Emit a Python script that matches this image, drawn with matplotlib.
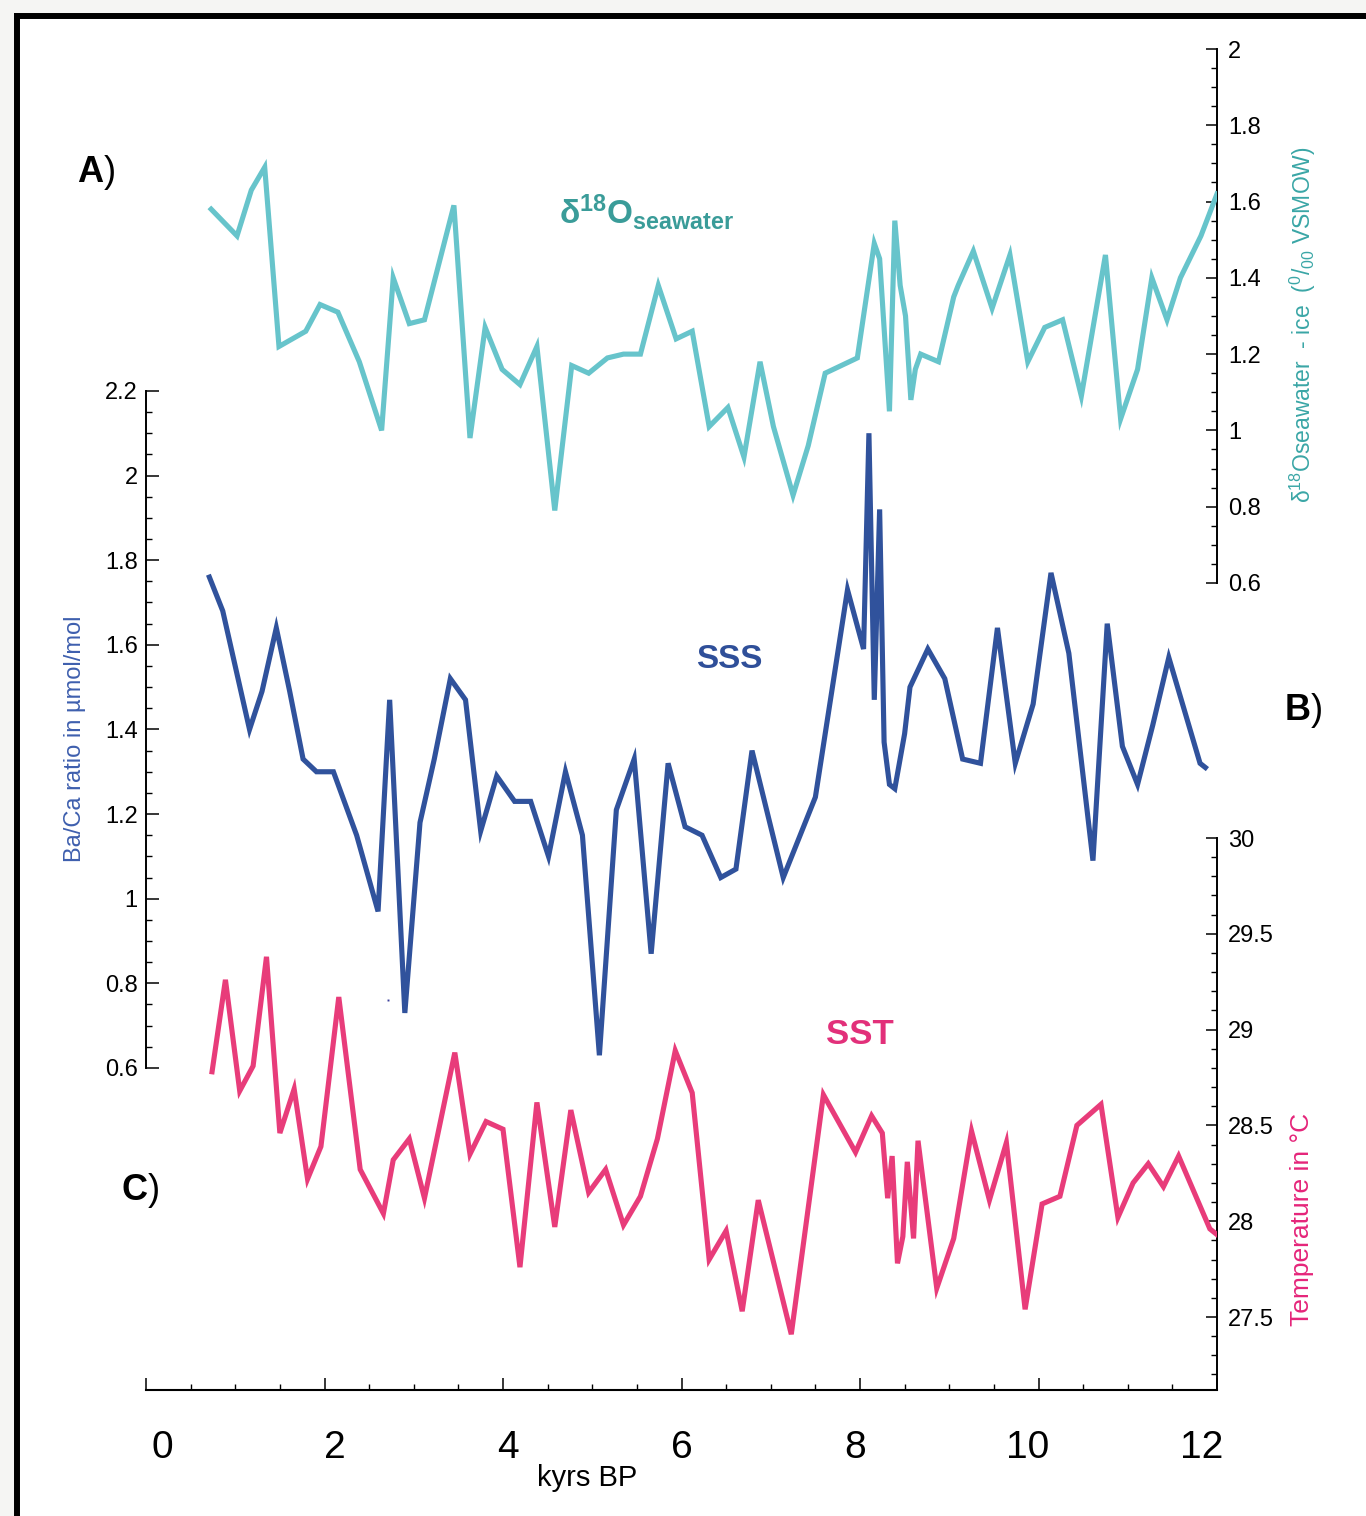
import numpy as np
import matplotlib
matplotlib.use("Agg")
import matplotlib.pyplot as plt
from matplotlib.ticker import FixedLocator, FuncFormatter
from matplotlib.patches import Rectangle
from matplotlib.lines import Line2D
from matplotlib import font_manager

# ---------------- data ----------------
d18_age = [0.73, 1.02, 1.18, 1.33, 1.49, 1.79, 1.95, 2.15, 2.39, 2.64, 2.77, 2.95, 3.12, 3.45, 3.63,
           3.80, 3.99, 4.19, 4.38, 4.58, 4.77, 4.96, 5.17, 5.35, 5.54, 5.74, 5.94, 6.12, 6.31, 6.52,
           6.70, 6.88, 7.03, 7.25, 7.42, 7.61, 7.97, 8.16, 8.22, 8.33, 8.39, 8.45, 8.51, 8.57, 8.62,
           8.68, 8.88, 9.05, 9.10, 9.27, 9.48, 9.68, 9.88, 10.07, 10.27, 10.48, 10.75, 10.92, 11.11,
           11.27, 11.44, 11.59, 11.82, 12.0]
d18_val = [1.58, 1.51, 1.63, 1.69, 1.22, 1.26, 1.33, 1.31, 1.18, 1.00, 1.40, 1.28, 1.29, 1.59, 0.98,
           1.27, 1.16, 1.12, 1.22, 0.79, 1.17, 1.15, 1.19, 1.20, 1.20, 1.38, 1.24, 1.26, 1.01, 1.06,
           0.93, 1.18, 1.01, 0.83, 0.96, 1.15, 1.19, 1.49, 1.45, 1.05, 1.55, 1.38, 1.30, 1.08, 1.16,
           1.20, 1.18, 1.35, 1.38, 1.47, 1.32, 1.46, 1.18, 1.27, 1.29, 1.09, 1.46, 1.03, 1.16,
           1.40, 1.29, 1.40, 1.51, 1.62]

sss_age = [0.71, 0.86, 1.16, 1.30, 1.46, 1.61, 1.76, 1.91, 2.10, 2.36, 2.60, 2.73, 2.90, 3.07, 3.23,
           3.41, 3.58, 3.75, 3.93, 4.13, 4.31, 4.51, 4.70, 4.89, 5.08, 5.27, 5.47, 5.66, 5.85, 6.04,
           6.23, 6.44, 6.61, 6.79, 7.14, 7.50, 7.86, 8.04, 8.10, 8.16, 8.22, 8.27, 8.33, 8.39, 8.50,
           8.56, 8.76, 8.95, 9.15, 9.35, 9.54, 9.74, 9.94, 10.14, 10.34, 10.61, 10.77, 10.94, 11.11,
           11.28, 11.46, 11.81, 11.87]
sss_val = [1.76, 1.68, 1.40, 1.49, 1.64, 1.49, 1.33, 1.30, 1.30, 1.15, 0.97, 1.47, 0.73, 1.18, 1.33,
           1.52, 1.47, 1.16, 1.29, 1.23, 1.23, 1.10, 1.30, 1.15, 0.63, 1.21, 1.33, 0.87, 1.32, 1.17,
           1.15, 1.05, 1.07, 1.35, 1.05, 1.24, 1.73, 1.59, 2.10, 1.47, 1.92, 1.37, 1.27, 1.26, 1.39,
           1.50, 1.59, 1.52, 1.33, 1.32, 1.64, 1.32, 1.46, 1.77, 1.58, 1.09, 1.65, 1.36, 1.27,
           1.41, 1.57, 1.32, 1.31]
stray_age = [2.71]
stray_val = [0.76]

sst_age = [0.74, 0.89, 1.05, 1.20, 1.35, 1.50, 1.66, 1.81, 1.96, 2.16, 2.40, 2.66, 2.77, 2.95, 3.12,
           3.46, 3.63, 3.81, 4.00, 4.19, 4.38, 4.58, 4.76, 4.96, 5.15, 5.35, 5.54, 5.73, 5.93, 6.12,
           6.31, 6.50, 6.68, 6.86, 7.23, 7.59, 7.95, 8.13, 8.25, 8.31, 8.36, 8.42, 8.48, 8.53, 8.60,
           8.65, 8.86, 9.05, 9.25, 9.45, 9.64, 9.85, 10.04, 10.24, 10.43, 10.70, 10.89, 11.06, 11.23,
           11.40, 11.57, 11.92, 12.0]
sst_val = [28.78, 29.26, 28.68, 28.81, 29.38, 28.46, 28.69, 28.22, 28.39, 29.17, 28.27, 28.04, 28.32, 28.43, 28.12,
           28.88, 28.35, 28.52, 28.48, 27.76, 28.62, 27.97, 28.58, 28.15, 28.27, 27.98, 28.13, 28.43, 28.89, 28.67,
           27.80, 27.95, 27.53, 28.11, 27.41, 28.66, 28.36, 28.55, 28.46, 28.12, 28.34, 27.78, 27.92, 28.31, 27.91,
           28.42, 27.65, 27.91, 28.47, 28.11, 28.41, 27.54, 28.09, 28.13, 28.50, 28.61, 28.02, 28.20, 28.30,
           28.18, 28.34, 27.96, 27.93]

x_ticks = [0, 2, 4, 6, 8, 10, 12]
baca_ticks = [0.6, 0.8, 1.0, 1.2, 1.4, 1.6, 1.8, 2.0, 2.2]
d18_ticks = [0.6, 0.8, 1.0, 1.2, 1.4, 1.6, 1.8, 2.0]
sst_ticks = [27.5, 28.0, 28.5, 29.0, 29.5, 30.0]

# ---------------- style ----------------
names = {f.name for f in font_manager.fontManager.ttflist}
NARROW = 'Liberation Sans Narrow' if 'Liberation Sans Narrow' in names else 'Liberation Sans'

plt.rcParams['font.family'] = ['Liberation Sans', 'DejaVu Sans']
plt.rcParams['mathtext.fontset'] = 'custom'
plt.rcParams['mathtext.rm'] = 'Liberation Sans'
plt.rcParams['mathtext.it'] = 'Liberation Sans:italic'
plt.rcParams['mathtext.bf'] = 'Liberation Sans:bold'

C_D18 = '#67c4cb'
C_SSS = '#30529c'
C_SST = '#e83c7a'

W, H = 1366, 1516
fig = plt.figure(figsize=(W / 100, H / 100), dpi=100)
fig.patch.set_facecolor('#f5f5f3')


def fx(px):
    return px / W


def fy(py):
    return 1 - py / H


# white panel with black top / left border
fig.add_artist(Rectangle((fx(17), 0), 1 - fx(17), fy(16), transform=fig.transFigure,
                         facecolor='white', edgecolor='none', zorder=0))
fig.add_artist(Line2D([fx(14), 1], [fy(16), fy(16)], transform=fig.transFigure,
                      color='black', lw=4.3, solid_capstyle='butt', zorder=1))
fig.add_artist(Line2D([fx(17), fx(17)], [fy(13), 0], transform=fig.transFigure,
                      color='black', lw=4.3, solid_capstyle='butt', zorder=1))

# axes spanning the full plotting area
top_px, bot_px, left_px, right_px = 49, 1390, 146, 1217
ax = fig.add_axes([fx(left_px), fy(bot_px), (right_px - left_px) / W, (bot_px - top_px) / H])
ax.patch.set_visible(False)
ax_d18 = ax.twinx()
ax_sst = ax.twinx()

ax.set_xlim(0, 12)
ax.set_ylim(-0.161, 3.008)        # Ba/Ca axis
ax_d18.set_ylim(-1.516, 2.0)      # d18O axis
ax_sst.set_ylim(27.119, 34.118)   # SST axis

fmt = FuncFormatter(lambda v, p: f"{round(v, 2):g}")
TL = 17

# main axis: Ba/Ca left + x bottom
for s in ['top', 'right']:
    ax.spines[s].set_visible(False)
ax.spines['left'].set_bounds(0.6, 2.2)
ax.spines['left'].set_linewidth(1.4)
ax.spines['bottom'].set_linewidth(1.5)
ax.xaxis.set_major_locator(FixedLocator(x_ticks))
ax.xaxis.set_minor_locator(FixedLocator(np.arange(0.5, 12.0, 0.5)))
ax.tick_params(axis='x', which='major', direction='in', length=8.6, width=1.1,
               labelbottom=False, top=False)
ax.tick_params(axis='x', which='minor', direction='in', length=4.3, width=1.0, top=False)
ax.yaxis.set_major_locator(FixedLocator(baca_ticks))
ax.yaxis.set_minor_locator(FixedLocator(np.arange(0.65, 2.2, 0.05)))
ax.yaxis.set_major_formatter(fmt)
ax.tick_params(axis='y', which='major', direction='in', length=9.5, width=1.1,
               labelsize=TL, pad=6, right=False)
ax.tick_params(axis='y', which='minor', direction='in', length=4.3, width=1.0, right=False)

# d18O right (top)
for s in ['top', 'left', 'bottom']:
    ax_d18.spines[s].set_visible(False)
ax_d18.spines['right'].set_bounds(0.6, 2.0)
ax_d18.spines['right'].set_linewidth(1.4)
ax_d18.yaxis.set_major_locator(FixedLocator(d18_ticks))
ax_d18.yaxis.set_minor_locator(FixedLocator(np.arange(0.65, 2.0, 0.05)))
ax_d18.yaxis.set_major_formatter(fmt)
ax_d18.tick_params(axis='y', which='major', direction='in', length=8, width=1.1,
                   labelsize=TL, pad=8)
ax_d18.tick_params(axis='y', which='minor', direction='in', length=4, width=1.0)

# SST right (bottom)
for s in ['top', 'left', 'bottom']:
    ax_sst.spines[s].set_visible(False)
ax_sst.spines['right'].set_bounds(27.119, 30.0)
ax_sst.spines['right'].set_linewidth(1.4)
ax_sst.yaxis.set_major_locator(FixedLocator(sst_ticks))
ax_sst.yaxis.set_minor_locator(FixedLocator(np.arange(27.2, 30.0, 0.1)))
ax_sst.yaxis.set_major_formatter(fmt)
ax_sst.tick_params(axis='y', which='major', direction='in', length=8, width=1.1,
                   labelsize=TL, pad=8)
ax_sst.tick_params(axis='y', which='minor', direction='in', length=4, width=1.0)

# x tick labels (slightly offset from the ticks as in the reference)
LAB0, LABK = 0.1793, 0.9703
secax = ax.secondary_xaxis('bottom', functions=(lambda x: (np.asarray(x) - LAB0) / LABK,
                                                 lambda k: LAB0 + LABK * np.asarray(k)))
secax.set_xticks(x_ticks)
secax.spines['bottom'].set_visible(False)
secax.tick_params(length=0, labelsize=28, pad=29, labelfontfamily=NARROW)

# ---------------- curves ----------------
lw = 3.7
ax.plot(sss_age, sss_val, color=C_SSS, lw=lw, solid_joinstyle='miter', zorder=3)
ax.plot(stray_age, stray_val, ls='none', marker='s', ms=1.4, color='#3b3f9c', mew=0)
ax_d18.plot(d18_age, d18_val, color=C_D18, lw=lw, solid_joinstyle='miter', zorder=3)
ax_sst.plot(sst_age, sst_val, color=C_SST, lw=lw, solid_joinstyle='miter', zorder=3)

# ---------------- texts ----------------
fig.text(fx(96), fy(172), r'$\mathbf{A}$)', fontsize=26, ha='center', va='center')
fig.text(fx(1303), fy(710), r'$\mathbf{B}$)', fontsize=26, ha='center', va='center')
fig.text(fx(140), fy(1190), r'$\mathbf{C}$)', fontsize=26, ha='center', va='center')

fig.text(fx(559), fy(224), r'$\mathbf{δ^{18}O_{seawater}}$', fontsize=24, color='#3a9c99',
         ha='left', va='baseline')
fig.text(fx(729), fy(660), 'SSS', fontsize=24, fontweight='bold', color='#2f4f99',
         ha='center', va='center')
fig.text(fx(860), fy(1034), 'SST', fontsize=25, fontweight='bold', color='#e2307a',
         ha='center', va='center')

fig.text(fx(75), fy(739), 'Ba/Ca ratio in µmol/mol', rotation=90, fontsize=17,
         color='#3e5fae', ha='center', va='center')
fig.text(fx(1303), fy(325), r'δ$^{18}$Oseawater  - ice  ($^{0}$/$_{00}$ VSMOW)', rotation=90,
         fontsize=16.5, color='#3aa6a6', ha='center', va='center')
fig.text(fx(1302), fy(1219), 'Temperature in °C', rotation=90, fontsize=19,
         color='#e5257a', ha='center', va='center')
fig.text(fx(587), fy(1478), 'kyrs BP', fontsize=21, ha='center', va='center')

fig.savefig('out.png', dpi=100, facecolor=fig.get_facecolor())
